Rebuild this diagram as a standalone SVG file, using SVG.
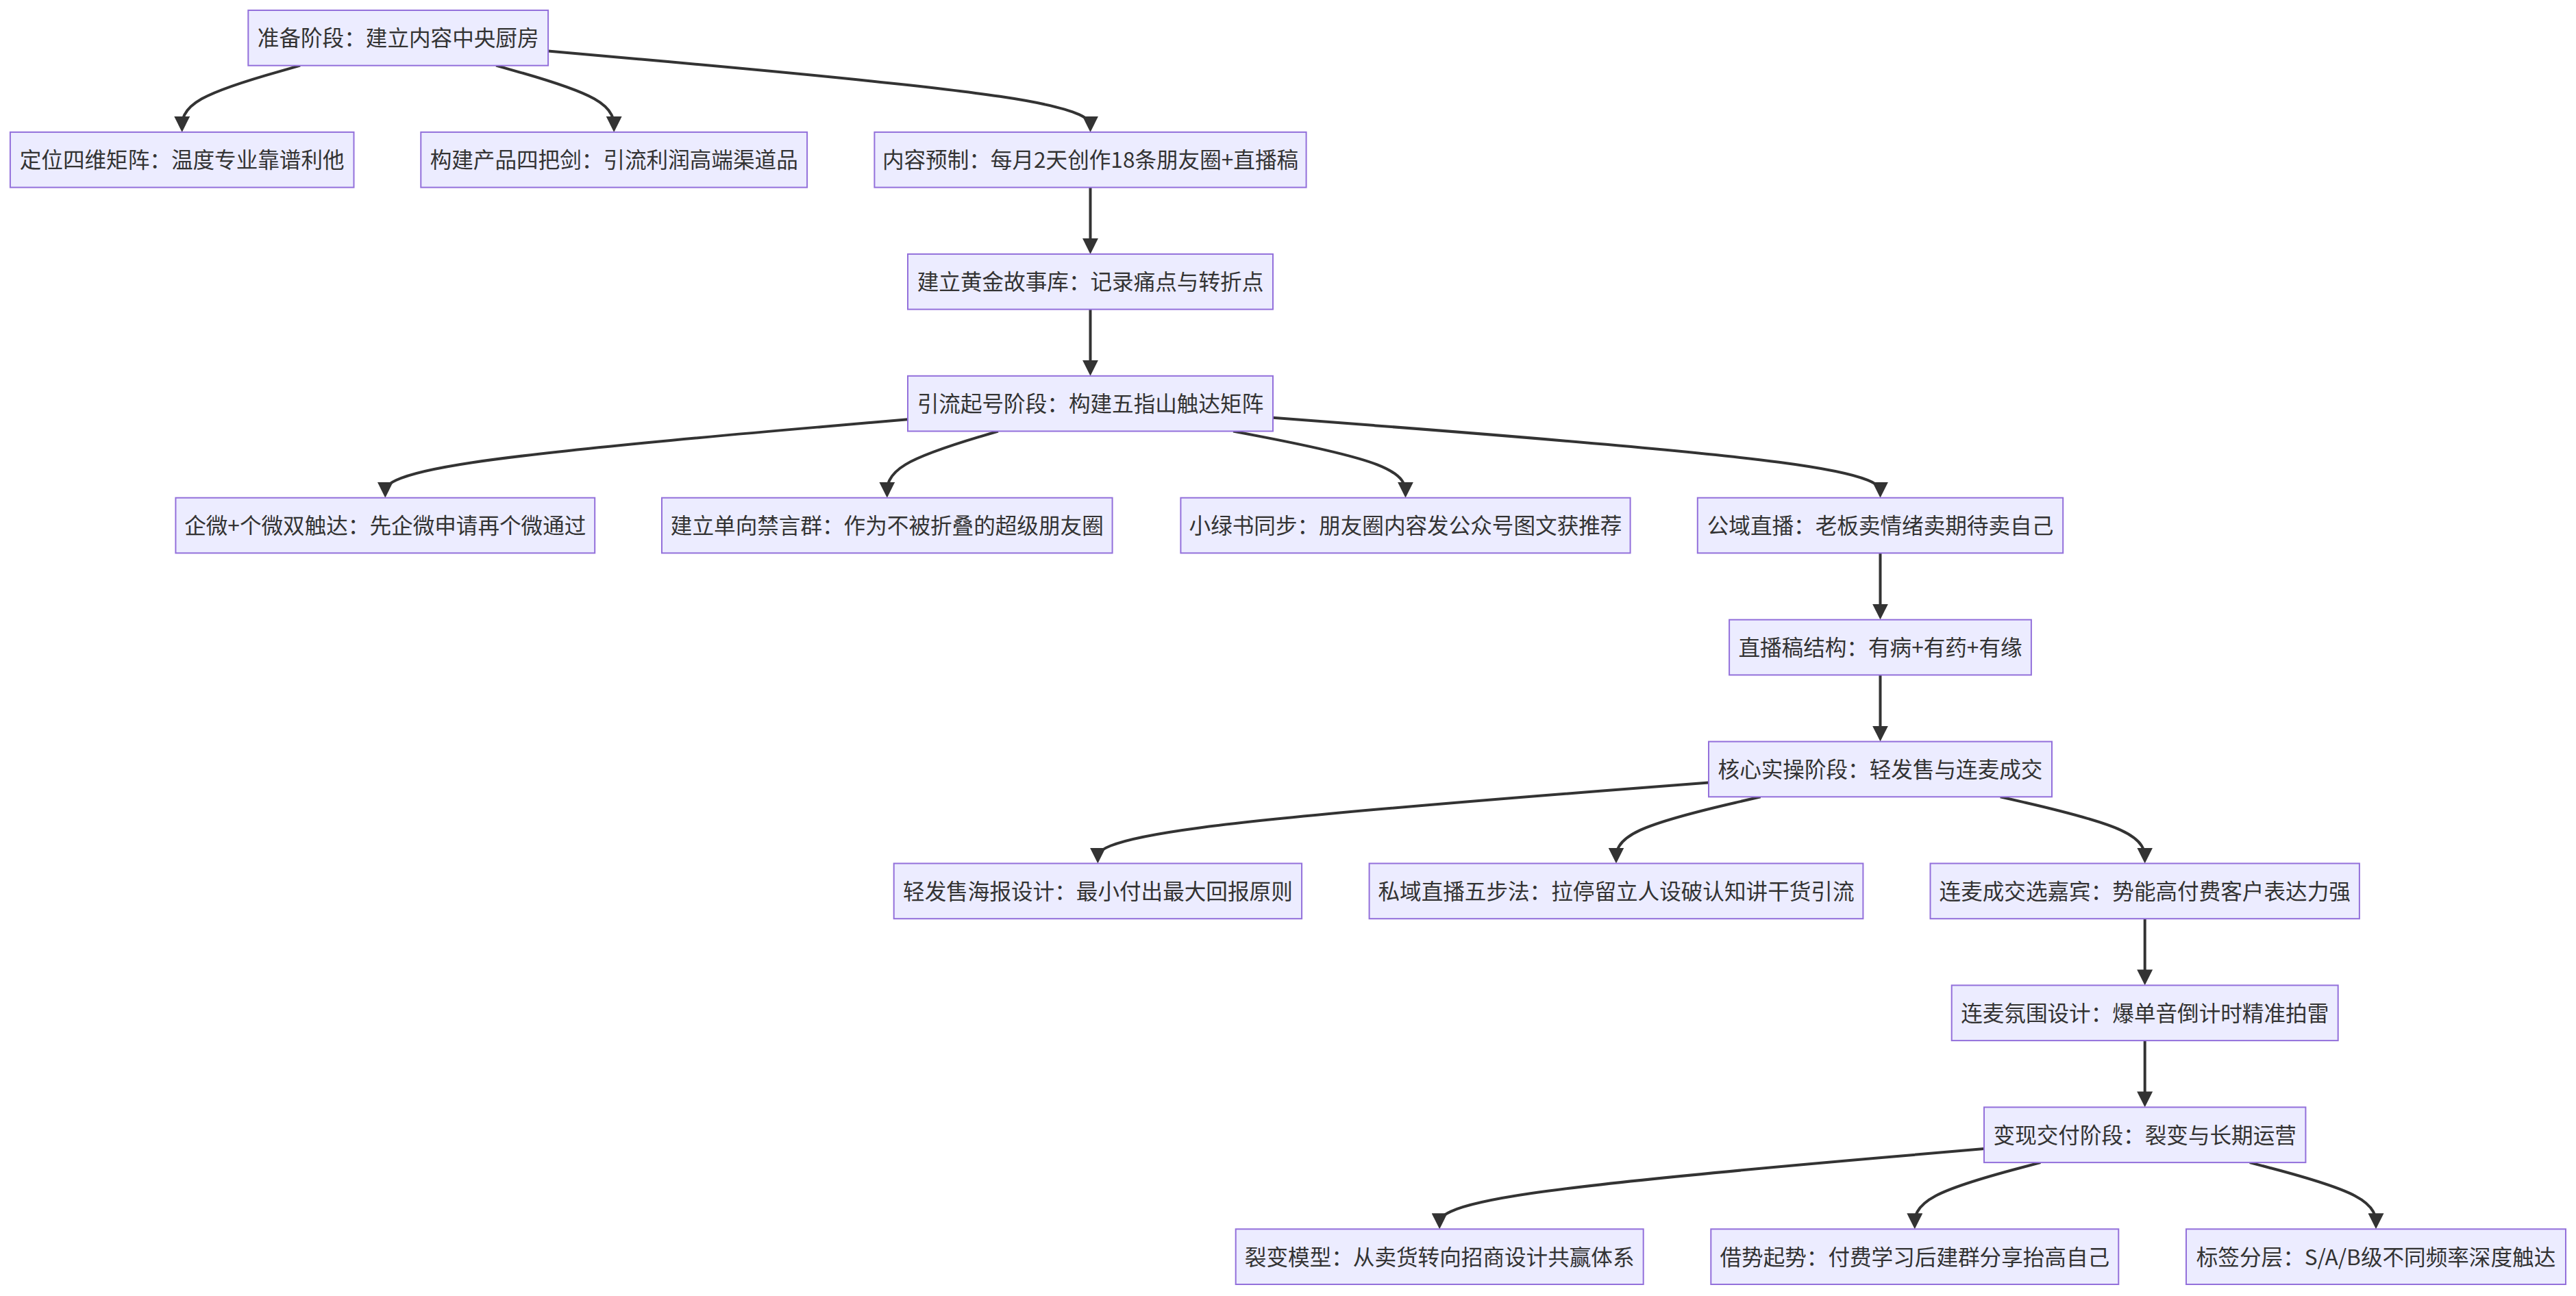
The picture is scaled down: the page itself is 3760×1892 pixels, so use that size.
<svg xmlns="http://www.w3.org/2000/svg" width="3760" height="1892" viewBox="0 0 3760 1892">
<style>
.node rect{fill:#ECECFF;stroke:#9370DB;stroke-width:2}
.node text{font-family:"Noto Sans CJK SC","Noto Sans",sans-serif;font-size:31.6px;fill:#333333;text-anchor:middle}
.edges path{fill:none;stroke:#333333;stroke-width:4;marker-end:url(#arrow)}
</style>
<defs>
<marker id="arrow" markerUnits="userSpaceOnUse" markerWidth="23" markerHeight="23" viewBox="0 0 23 23" refX="17" refY="11.5" orient="auto">
<path d="M0,0 L23,11.5 L0,23 z" fill="#333333"/>
</marker>
</defs>
<rect width="3760" height="1892" fill="#ffffff"/>
<g class="edges">
<path d="M438.1,95.7 L409.4,103.8 C380.6,111.9 323.2,128.1 294.4,144.3 C265.7,160.5 265.7,176.7 265.7,184.8 L265.7,186.9"/>
<path d="M724.1,95.7 L752.8,103.8 C781.5,111.9 838.8,128.1 867.5,144.3 C896.2,160.5 896.2,176.7 896.2,184.8 L896.2,186.9"/>
<path d="M800.1,74.6 L932,86.2 C1063.9,97.9 1327.7,121.1 1459.6,140.8 C1591.5,160.5 1591.5,176.7 1591.5,184.8 L1591.5,186.9"/>
<path d="M1591.5,273.6 L1591.5,364.9"/>
<path d="M1591.5,451.6 L1591.5,542.8"/>
<path d="M1325,612.2 L1197.9,623.2 C1070.8,634.2 816.5,656.1 689.4,675.2 C562.3,694.3 562.3,710.5 562.3,718.6 L562.3,720.7"/>
<path d="M1456.9,629.5 L1429.9,637.6 C1402.9,645.7 1348.8,661.9 1321.8,678.1 C1294.8,694.3 1294.8,710.5 1294.8,718.6 L1294.8,720.7"/>
<path d="M1800.1,629.5 L1842,637.6 C1883.9,645.7 1967.7,661.9 2009.6,678.1 C2051.5,694.3 2051.5,710.5 2051.5,718.6 L2051.5,720.7"/>
<path d="M1858,609.7 L2005.8,621.1 C2153.5,632.5 2449,655.3 2596.8,674.8 C2744.5,694.3 2744.5,710.5 2744.5,718.6 L2744.5,720.7"/>
<path d="M2744.5,807.4 L2744.5,898.6"/>
<path d="M2744.5,985.4 L2744.5,1076.6"/>
<path d="M2494,1142.4 L2345.4,1154 C2196.8,1165.6 1899.6,1188.8 1751,1208.4 C1602.4,1228.1 1602.4,1244.3 1602.4,1252.4 L1602.4,1254.5"/>
<path d="M2569.7,1163.3 L2534.6,1171.4 C2499.5,1179.5 2429.2,1195.7 2394.1,1211.9 C2359,1228.1 2359,1244.3 2359,1252.4 L2359,1254.5"/>
<path d="M2919.7,1163.3 L2954.9,1171.4 C2990,1179.5 3060.4,1195.7 3095.5,1211.9 C3130.7,1228.1 3130.7,1244.3 3130.7,1252.4 L3130.7,1254.5"/>
<path d="M3130.7,1341.2 L3130.7,1432.4"/>
<path d="M3130.7,1519.1 L3130.7,1610.4"/>
<path d="M2896,1677 L2763.5,1688.5 C2631.1,1699.9 2366.1,1722.8 2233.7,1742.3 C2101.2,1761.9 2101.2,1778.1 2101.2,1786.2 L2101.2,1788.3"/>
<path d="M2978.4,1697.1 L2947.8,1705.2 C2917.2,1713.3 2856,1729.5 2825.4,1745.7 C2794.8,1761.9 2794.8,1778.1 2794.8,1786.2 L2794.8,1788.3"/>
<path d="M3283.7,1697.1 L3314.4,1705.2 C3345.1,1713.3 3406.6,1729.5 3437.3,1745.7 C3468,1761.9 3468,1778.1 3468,1786.2 L3468,1788.3"/>
</g>
<g id="n0" class="node"><rect x="362.3" y="15" width="437.8" height="80.7"/><text x="581.2" y="67.4">准备阶段：建立内容中央厨房</text></g>
<g id="n1" class="node"><rect x="14.9" y="192.9" width="501.6" height="80.7"/><text x="265.7" y="245.3">定位四维矩阵：温度专业靠谱利他</text></g>
<g id="n2" class="node"><rect x="614.3" y="192.9" width="563.8" height="80.7"/><text x="896.2" y="245.3">构建产品四把剑：引流利润高端渠道品</text></g>
<g id="n3" class="node"><rect x="1276.4" y="192.9" width="630.2" height="80.7"/><text x="1591.5" y="245.3">内容预制：每月2天创作18条朋友圈+直播稿</text></g>
<g id="n4" class="node"><rect x="1325" y="370.9" width="533" height="80.7"/><text x="1591.5" y="423.2">建立黄金故事库：记录痛点与转折点</text></g>
<g id="n5" class="node"><rect x="1325" y="548.8" width="533" height="80.7"/><text x="1591.5" y="601.1">引流起号阶段：构建五指山触达矩阵</text></g>
<g id="n6" class="node"><rect x="256.4" y="726.7" width="611.8" height="80.7"/><text x="562.3" y="779.1">企微+个微双触达：先企微申请再个微通过</text></g>
<g id="n7" class="node"><rect x="966" y="726.7" width="657.6" height="80.7"/><text x="1294.8" y="779.1">建立单向禁言群：作为不被折叠的超级朋友圈</text></g>
<g id="n8" class="node"><rect x="1723.4" y="726.7" width="656.2" height="80.7"/><text x="2051.5" y="779.1">小绿书同步：朋友圈内容发公众号图文获推荐</text></g>
<g id="n9" class="node"><rect x="2477.8" y="726.7" width="533.4" height="80.7"/><text x="2744.5" y="779.1">公域直播：老板卖情绪卖期待卖自己</text></g>
<g id="n10" class="node"><rect x="2524.1" y="904.7" width="440.8" height="80.7"/><text x="2744.5" y="957">直播稿结构：有病+有药+有缘</text></g>
<g id="n11" class="node"><rect x="2494" y="1082.6" width="501" height="80.7"/><text x="2744.5" y="1134.9">核心实操阶段：轻发售与连麦成交</text></g>
<g id="n12" class="node"><rect x="1304.7" y="1260.5" width="595.4" height="80.7"/><text x="1602.4" y="1312.9">轻发售海报设计：最小付出最大回报原则</text></g>
<g id="n13" class="node"><rect x="1998.6" y="1260.5" width="720.8" height="80.7"/><text x="2359" y="1312.9">私域直播五步法：拉停留立人设破认知讲干货引流</text></g>
<g id="n14" class="node"><rect x="2817.5" y="1260.5" width="626.4" height="80.7"/><text x="3130.7" y="1312.9">连麦成交选嘉宾：势能高付费客户表达力强</text></g>
<g id="n15" class="node"><rect x="2848.7" y="1438.4" width="564" height="80.7"/><text x="3130.7" y="1490.8">连麦氛围设计：爆单音倒计时精准拍雷</text></g>
<g id="n16" class="node"><rect x="2896" y="1616.4" width="469.4" height="80.7"/><text x="3130.7" y="1668.7">变现交付阶段：裂变与长期运营</text></g>
<g id="n17" class="node"><rect x="1803.7" y="1794.3" width="595" height="80.7"/><text x="2101.2" y="1846.7">裂变模型：从卖货转向招商设计共赢体系</text></g>
<g id="n18" class="node"><rect x="2497.3" y="1794.3" width="595" height="80.7"/><text x="2794.8" y="1846.7">借势起势：付费学习后建群分享抬高自己</text></g>
<g id="n19" class="node"><rect x="3191" y="1794.3" width="554" height="80.7"/><text x="3468" y="1846.7">标签分层：S/A/B级不同频率深度触达</text></g>
</svg>
